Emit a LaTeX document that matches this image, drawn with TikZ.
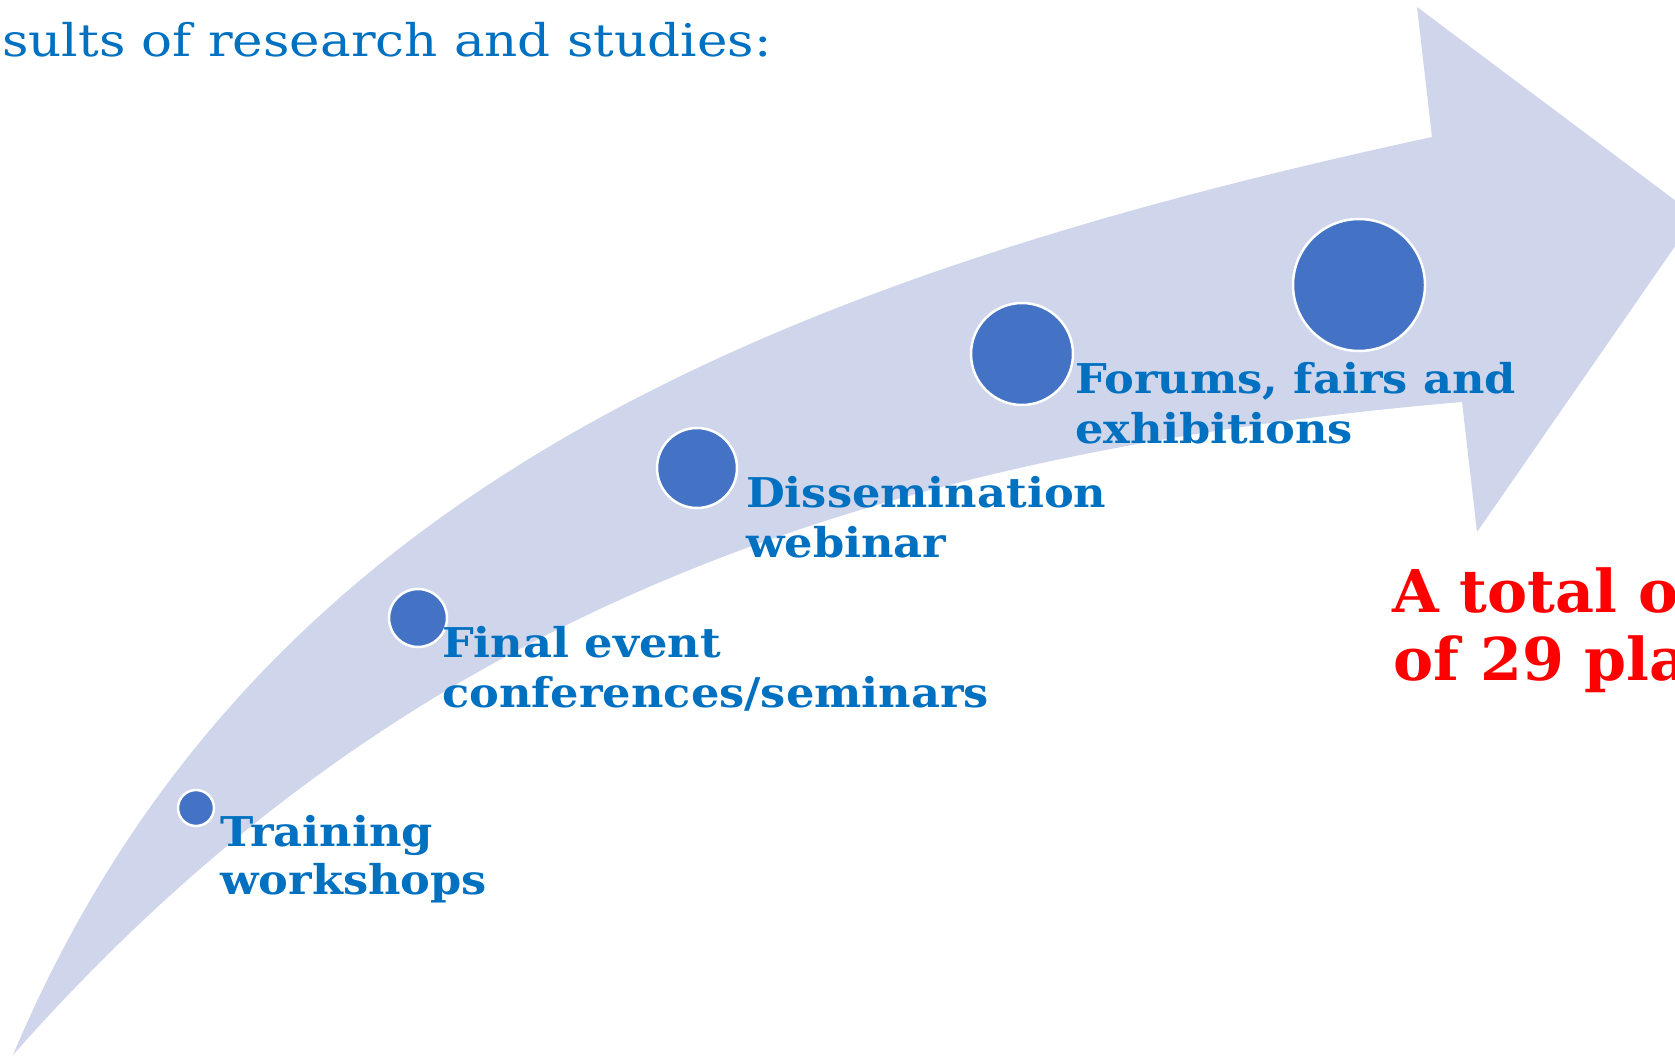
\documentclass[tikz,border=0pt]{standalone}
\usepackage{fontspec}
\setmainfont{DejaVu Serif}
\newfontfamily\lblfont{DejaVu Serif}[FakeStretch=1.09]
\newfontfamily\redfont{DejaVu Serif}[FakeStretch=1.02]
\newfontfamily\topfont{DejaVu Serif}[FakeStretch=1.145]
\definecolor{band}{HTML}{CFD5EA}
\definecolor{dotc}{HTML}{4472C4}
\definecolor{lbl}{HTML}{0070C0}
\definecolor{redt}{HTML}{FF0000}
\tikzset{
  dotnode/.style={circle, fill=dotc, draw=white, line width=2.5pt, inner sep=0pt},
  lab/.style={anchor=base west, inner sep=0pt, text=lbl, font=\lblfont\bfseries\fontsize{41}{50}\selectfont},
  redlab/.style={anchor=base west, inner sep=0pt, text=redt, font=\redfont\bfseries\fontsize{59}{68}\selectfont},
  toplab/.style={anchor=base west, inner sep=0pt, text=lbl, font=\topfont\fontsize{45}{54}\selectfont}
}
\begin{document}
\begin{tikzpicture}[x=1pt,y=-1pt]
\useasboundingbox (0,0) rectangle (1675,1056);
\clip (0,0) rectangle (1675,1056);
% curved arrow
\fill[band] (13,1055) .. controls (246,502) and (748,285) .. (1432,137)
  -- (1417,7) -- (1696,216) -- (1477,532) -- (1462,402)
  .. controls (815,457) and (377,643) .. (13,1055) -- cycle;
% dots
\node[dotnode, minimum size=36pt] (c1) at (196,808) {};
\node[dotnode, minimum size=58pt] (c2) at (418,618) {};
\node[dotnode, minimum size=80pt] (c3) at (697,468) {};
\node[dotnode, minimum size=102pt] (c4) at (1022,354) {};
\node[dotnode, minimum size=132pt] (c5) at (1359,285) {};
% labels
\node[lab] (t1a) at (220,846) {Training};
\node[lab] (t1b) at (220,894) {workshops};
\node[lab] (t2a) at (442,657) {Final event};
\node[lab] (t2b) at (442,707) {conferences/seminars};
\node[lab] (t3a) at (746,507) {Dissemination};
\node[lab] (t3b) at (746,557) {webinar};
\node[lab] (t4a) at (1075,393) {Forums, fairs and};
\node[lab] (t4b) at (1075,443) {exhibitions};
\node[redlab] (r1) at (1392,612) {A total o};
\node[redlab] (r2) at (1393,680) {of 29 pla};
\node[toplab] (top) at (2,57) {sults of research and studies:};
\end{tikzpicture}
\end{document}
